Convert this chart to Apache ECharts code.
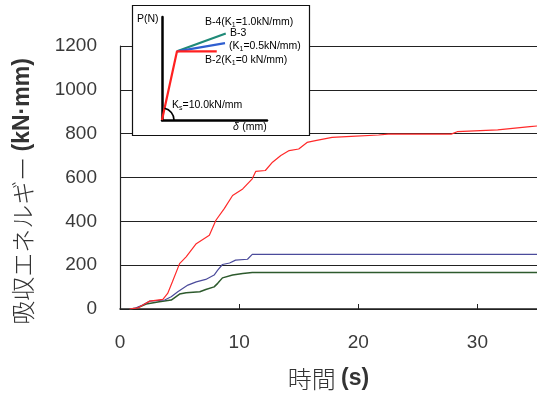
<!DOCTYPE html>
<html>
<head>
<meta charset="utf-8">
<script src="https://cdn.jsdelivr.net/npm/echarts@6/dist/echarts.min.js"></script>
<style>
  html, body { margin: 0; padding: 0; background: #fff; }
  #chart { width: 537px; height: 394px; }
</style>
</head>
<body>
<div id="chart"></div>
<script>
// Absorbed energy over time for three specimens (time in s, energy in kN·mm)
const timeB2 = [0.8, 1.5, 2.1, 2.5, 3.6, 4.0, 4.4, 5.0, 5.55, 6.4, 7.5, 8.05, 8.75, 9.45, 10.3, 11.1, 11.4, 12.2, 12.8, 13.5, 14.2, 15.0, 15.7, 16.4, 17.8, 19.4, 21.7, 22.5, 27.8, 28.3, 31.7, 34.4, 35];
const energyB2 = [0, 5, 24, 36, 44, 71, 124, 207, 238, 298, 336, 405, 458, 518, 548, 594, 628, 632, 670, 700, 723, 730, 760, 768, 783, 788, 794, 798, 798, 809, 817, 832, 835];

const timeB3 = [0.8, 1.3, 1.9, 2.5, 3.75, 4.3, 4.85, 5.7, 6.4, 7.2, 7.9, 8.2, 8.6, 9.2, 9.7, 10.7, 11.1, 35];
const energyB3 = [0, 4, 18, 36, 41, 56, 79, 109, 124, 135, 155, 177, 203, 210, 223, 227, 249, 249];

const timeB4 = [0.8, 1.4, 2.2, 3.3, 4.3, 5.0, 5.55, 6.7, 7.2, 7.9, 8.2, 8.6, 9.45, 10.3, 11.1, 35];
const energyB4 = [0, 4, 23, 33, 41, 68, 74, 79, 89, 101, 117, 142, 155, 162, 167, 167];

const yTicks = [0, 200, 400, 600, 800, 1000, 1200];
const xTicks = [0, 10, 20, 30];

// Schematic load–displacement model shown in the inset (δ, P in arbitrary units)
const modelB2 = [[0, 0], [1, 10], [3.65, 10]];
const modelB3 = [[1, 10], [4.2, 11.2]];
const modelB4 = [[1, 10], [4.25, 12.6]];

const zip = (a, b) => a.map((v, i) => [v, b[i]]);

const RED = '#ff2a2a', BLUE = '#4b4b9b', GREEN = '#2d5a2d';
const LATIN = '"Liberation Sans", Arial, sans-serif';
const CJK = '"Noto Sans CJK JP", sans-serif';

const chart = echarts.init(document.getElementById('chart'), null, { renderer: 'canvas' });

const subRich = {
  n: { fontFamily: LATIN, fontSize: 10.5, color: '#000' },
  s: { fontFamily: LATIN, fontSize: 7, color: '#000', padding: [6, 0, 0, 0] }
};

const nameRich = {
  a: { fontFamily: CJK, fontSize: 24, fontWeight: 300, color: '#333' },
  b: { fontFamily: LATIN, fontSize: 23, fontWeight: 'bold', color: '#333' }
};

const option = {
  animation: false,
  backgroundColor: '#fff',
  grid: [
    { left: 120, top: 46, right: 0, bottom: 85, outerBoundsMode: 'none', containLabel: false },
    { left: 162, top: 17, width: 105, height: 103, z: 20, outerBoundsMode: 'none', containLabel: false }
  ],
  xAxis: [
    {
      gridIndex: 0, type: 'value', min: 0, max: 35, interval: 10,
      name: '{a|時間 }{b|(s)}', nameLocation: 'middle', nameGap: 58,
      nameTextStyle: { rich: nameRich },
      axisLine: { show: true, lineStyle: { color: '#222', width: 1.5 } },
      axisTick: { show: true, inside: true, length: 5, lineStyle: { color: '#222' } },
      axisLabel: { margin: 24, fontFamily: LATIN, fontSize: 19, color: '#3a3a3a', showMaxLabel: false,
                   formatter: v => xTicks.includes(v) ? String(v) : '' },
      splitLine: { show: false }
    },
    {
      gridIndex: 1, type: 'value', min: 0, max: 7, z: 20,
      axisLine: { show: true, onZero: false, lineStyle: { color: '#000', width: 2.5 } },
      axisTick: { show: false }, axisLabel: { show: false }, splitLine: { show: false }
    }
  ],
  yAxis: [
    {
      gridIndex: 0, type: 'value', min: 0, max: 1200, interval: 200,
      name: '{a|吸収エネルギー }{b|(kN·mm)}', nameLocation: 'middle', nameGap: 85,
      nameTextStyle: { rich: nameRich, padding: [0, 28, 0, 0] },
      axisLine: { show: true, lineStyle: { color: '#222', width: 1.2 } },
      axisTick: { show: false },
      axisLabel: { margin: 23, fontFamily: LATIN, fontSize: 19, color: '#3a3a3a',
                   formatter: v => yTicks.includes(v) ? String(v) : '' },
      splitLine: { show: true, lineStyle: { color: '#222', width: 1.2 } }
    },
    {
      gridIndex: 1, type: 'value', min: 0, max: 15, z: 20,
      axisLine: { show: true, onZero: false, lineStyle: { color: '#000', width: 2.5 } },
      axisTick: { show: false }, axisLabel: { show: false }, splitLine: { show: false }
    }
  ],
  series: [
    { name: 'B-4', type: 'line', xAxisIndex: 0, yAxisIndex: 0, data: zip(timeB4, energyB4),
      showSymbol: false, lineStyle: { color: GREEN, width: 1.5 }, z: 3 },
    { name: 'B-3', type: 'line', xAxisIndex: 0, yAxisIndex: 0, data: zip(timeB3, energyB3),
      showSymbol: false, lineStyle: { color: BLUE, width: 1.2 }, z: 4 },
    { name: 'B-2', type: 'line', xAxisIndex: 0, yAxisIndex: 0, data: zip(timeB2, energyB2),
      showSymbol: false, lineStyle: { color: RED, width: 1.2 }, z: 5 },
    { type: 'line', xAxisIndex: 1, yAxisIndex: 1, data: modelB4, showSymbol: false,
      lineStyle: { color: '#1f8a78', width: 2.2 }, z: 22 },
    { type: 'line', xAxisIndex: 1, yAxisIndex: 1, data: modelB3, showSymbol: false,
      lineStyle: { color: '#2f5fd0', width: 2.2 }, z: 23 },
    { type: 'line', xAxisIndex: 1, yAxisIndex: 1, data: modelB2, showSymbol: false,
      lineStyle: { color: '#ff2020', width: 2.2 }, z: 24 }
  ],
  graphic: [
    { type: 'rect', z: 10, shape: { x: 132.5, y: 5.5, width: 177, height: 130 },
      style: { fill: '#fff', stroke: '#111', lineWidth: 1.2 } },
    { type: 'text', z: 30, left: 137, top: 14,
      style: { text: 'P(N)', font: '10.5px ' + LATIN, fill: '#000' } },
    { type: 'text', z: 30, left: 233, top: 121,
      style: { text: '{i|δ} {n|(mm)}', rich: { i: { fontFamily: LATIN, fontStyle: 'italic', fontSize: 10.5, color: '#000' }, n: subRich.n } } },
    { type: 'text', z: 30, left: 205, top: 17,
      style: { text: '{n|B-4(K}{s|1}{n|=1.0kN/mm)}', rich: subRich } },
    { type: 'text', z: 30, left: 230, top: 28,
      style: { text: '{n|B-3}', rich: subRich } },
    { type: 'text', z: 30, left: 229, top: 41,
      style: { text: '{n|(K}{s|1}{n|=0.5kN/mm)}', rich: subRich } },
    { type: 'text', z: 30, left: 205, top: 55,
      style: { text: '{n|B-2(K}{s|1}{n|=0 kN/mm)}', rich: subRich } },
    { type: 'text', z: 30, left: 172, top: 100,
      style: { text: '{n|K}{s|s}{n|=10.0kN/mm}', rich: subRich } }
  ]
};

chart.setOption(option);

// Angle arc for the initial stiffness, placed from the inset's own scale
const o = chart.convertToPixel({ xAxisIndex: 1, yAxisIndex: 1 }, modelB2[0]);
const k = chart.convertToPixel({ xAxisIndex: 1, yAxisIndex: 1 }, modelB2[1]);
const ang = Math.atan2(k[1] - o[1], k[0] - o[0]);
chart.setOption({
  graphic: option.graphic.concat([{
    type: 'arc', z: 30,
    shape: { cx: o[0], cy: o[1], r: 12, startAngle: ang, endAngle: 0, clockwise: true },
    style: { stroke: '#000', fill: 'none', lineWidth: 1.6 }
  }])
});
</script>
</body>
</html>
